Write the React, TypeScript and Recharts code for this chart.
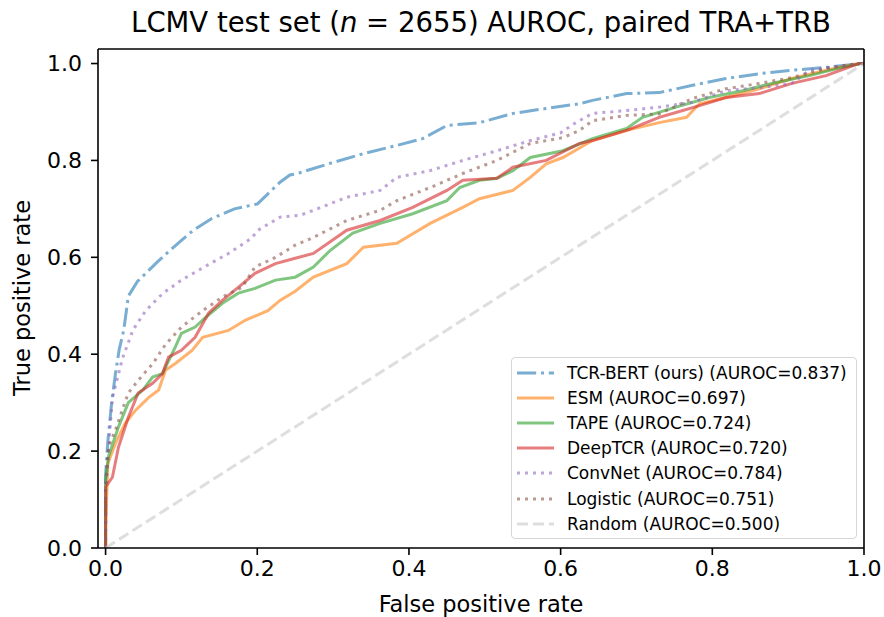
import { LineChart, Line, XAxis, YAxis, ReferenceLine } from 'recharts'

// ROC points (fpr / tpr per model)
const tcrbertFpr = [0, 0, 0.003, 0.008, 0.013, 0.018, 0.024, 0.03, 0.042, 0.055, 0.068, 0.082, 0.1, 0.115, 0.14, 0.17, 0.2, 0.23, 0.243, 0.253, 0.296, 0.34, 0.384, 0.418, 0.45, 0.493, 0.537, 0.58, 0.625, 0.642, 0.687, 0.73, 0.774, 0.818, 0.862, 0.905, 0.95, 0.996, 1]
const tcrbertTpr = [0, 0.15, 0.22, 0.3, 0.36, 0.41, 0.45, 0.52, 0.55, 0.57, 0.59, 0.61, 0.635, 0.655, 0.68, 0.7, 0.71, 0.755, 0.77, 0.773, 0.794, 0.814, 0.831, 0.845, 0.872, 0.878, 0.897, 0.907, 0.917, 0.924, 0.938, 0.94, 0.955, 0.969, 0.979, 0.986, 0.992, 1, 1]

const esmFpr = [0, 0, 0.003, 0.013, 0.026, 0.04, 0.057, 0.07, 0.079, 0.092, 0.114, 0.128, 0.162, 0.184, 0.214, 0.23, 0.25, 0.274, 0.318, 0.34, 0.384, 0.428, 0.471, 0.493, 0.537, 0.56, 0.581, 0.603, 0.642, 0.687, 0.73, 0.766, 0.783, 0.818, 0.862, 0.905, 0.95, 0.993, 1]
const esmTpr = [0, 0.04, 0.175, 0.216, 0.258, 0.285, 0.311, 0.326, 0.367, 0.381, 0.408, 0.435, 0.449, 0.47, 0.49, 0.511, 0.53, 0.559, 0.587, 0.621, 0.629, 0.67, 0.703, 0.721, 0.738, 0.765, 0.793, 0.806, 0.841, 0.862, 0.878, 0.889, 0.917, 0.93, 0.948, 0.969, 0.986, 1, 1]

const tapeFpr = [0, 0, 0.004, 0.017, 0.03, 0.049, 0.062, 0.075, 0.092, 0.1, 0.118, 0.132, 0.154, 0.175, 0.197, 0.224, 0.25, 0.274, 0.296, 0.326, 0.362, 0.405, 0.45, 0.467, 0.493, 0.516, 0.537, 0.56, 0.603, 0.642, 0.687, 0.708, 0.752, 0.796, 0.84, 0.884, 0.928, 0.971, 0.996, 1]
const tapeTpr = [0, 0.14, 0.19, 0.25, 0.3, 0.326, 0.353, 0.36, 0.415, 0.443, 0.456, 0.476, 0.505, 0.526, 0.536, 0.553, 0.559, 0.58, 0.614, 0.65, 0.67, 0.69, 0.717, 0.744, 0.759, 0.763, 0.779, 0.806, 0.82, 0.845, 0.866, 0.889, 0.91, 0.93, 0.944, 0.961, 0.975, 0.992, 1, 1]

const deeptcrFpr = [0, 0, 0.009, 0.017, 0.03, 0.043, 0.062, 0.075, 0.083, 0.1, 0.118, 0.136, 0.154, 0.175, 0.197, 0.224, 0.25, 0.274, 0.318, 0.362, 0.405, 0.45, 0.471, 0.516, 0.537, 0.581, 0.625, 0.642, 0.687, 0.73, 0.752, 0.783, 0.818, 0.862, 0.905, 0.95, 0.993, 1]
const deeptcrTpr = [0, 0.126, 0.146, 0.208, 0.27, 0.32, 0.34, 0.36, 0.394, 0.408, 0.435, 0.485, 0.511, 0.538, 0.567, 0.587, 0.598, 0.608, 0.656, 0.676, 0.703, 0.738, 0.759, 0.763, 0.786, 0.8, 0.835, 0.841, 0.862, 0.889, 0.899, 0.913, 0.93, 0.938, 0.959, 0.975, 1, 1]

const convnetFpr = [0, 0, 0.003, 0.009, 0.022, 0.036, 0.053, 0.075, 0.1, 0.13, 0.162, 0.193, 0.2, 0.23, 0.257, 0.274, 0.318, 0.362, 0.384, 0.428, 0.471, 0.516, 0.56, 0.6, 0.62, 0.642, 0.687, 0.73, 0.774, 0.818, 0.862, 0.905, 0.928, 0.993, 1]
const convnetTpr = [0, 0.12, 0.19, 0.31, 0.39, 0.45, 0.49, 0.525, 0.553, 0.58, 0.608, 0.64, 0.655, 0.683, 0.687, 0.697, 0.724, 0.738, 0.765, 0.779, 0.8, 0.82, 0.841, 0.857, 0.878, 0.897, 0.903, 0.91, 0.92, 0.944, 0.95, 0.959, 0.986, 1, 1]

const logisticFpr = [0, 0, 0.004, 0.013, 0.022, 0.03, 0.043, 0.062, 0.079, 0.1, 0.128, 0.154, 0.18, 0.197, 0.224, 0.25, 0.274, 0.318, 0.362, 0.384, 0.428, 0.471, 0.516, 0.56, 0.603, 0.625, 0.642, 0.687, 0.73, 0.774, 0.818, 0.862, 0.905, 0.95, 0.993, 1]
const logisticTpr = [0, 0.12, 0.21, 0.243, 0.285, 0.32, 0.346, 0.38, 0.42, 0.456, 0.49, 0.518, 0.538, 0.58, 0.6, 0.625, 0.641, 0.676, 0.697, 0.717, 0.744, 0.773, 0.8, 0.835, 0.847, 0.862, 0.882, 0.893, 0.896, 0.928, 0.948, 0.959, 0.971, 0.99, 1, 1]

const randomFpr = [0, 1]
const randomTpr = [0, 1]

const ticks = [0, 0.2, 0.4, 0.6, 0.8, 1.0]
const xDomain = [-0.01, 1]
const yDomain = [0, 1.03]

const zip = (xs: number[], ys: number[]) => xs.map((x, i) => ({ x, y: ys[i] }))

const series = [
  { name: 'TCR-BERT (ours) (AUROC=0.837)', data: zip(tcrbertFpr, tcrbertTpr), color: '#1f77b4', dash: '19.2 4.8 3 4.8' },
  { name: 'ESM (AUROC=0.697)', data: zip(esmFpr, esmTpr), color: '#ff7f0e', dash: undefined },
  { name: 'TAPE (AUROC=0.724)', data: zip(tapeFpr, tapeTpr), color: '#2ca02c', dash: undefined },
  { name: 'DeepTCR (AUROC=0.720)', data: zip(deeptcrFpr, deeptcrTpr), color: '#d62728', dash: undefined },
  { name: 'ConvNet (AUROC=0.784)', data: zip(convnetFpr, convnetTpr), color: '#9467bd', dash: '3 5' },
  { name: 'Logistic (AUROC=0.751)', data: zip(logisticFpr, logisticTpr), color: '#8c564b', dash: '3 5' },
  { name: 'Random (AUROC=0.500)', data: zip(randomFpr, randomTpr), color: '#c8c8c8', dash: '11 5' },
]

const FONT = '"DejaVu Sans", sans-serif'

function LegendBox() {
  return (
    <div style={{
      position: 'absolute', left: 511, top: 357, width: 346, boxSizing: 'border-box',
      border: '1px solid #d6d6d6', borderRadius: 4, background: 'rgba(255,255,255,0.8)',
      padding: '2px 0', fontFamily: FONT, fontSize: 17, color: '#000',
    }}>
      {series.map(s => (
        <div key={s.name} style={{ display: 'flex', alignItems: 'center', height: 25.2 }}>
          <svg width={40} height={10} style={{ marginLeft: 5, marginRight: 10 }}>
            <line x1={0} y1={5} x2={37} y2={5} stroke={s.color} strokeOpacity={0.6}
              strokeWidth={3} strokeDasharray={s.dash} />
          </svg>
          <span style={{ whiteSpace: 'nowrap' }}>{s.name}</span>
        </div>
      ))}
    </div>
  )
}

export default function App() {
  return (
    <div style={{ position: 'absolute', left: 0, top: 0, width: 884, height: 617, background: '#fff', fontFamily: FONT }}>
      <div style={{ position: 'absolute', left: 60, width: 842, top: 5, textAlign: 'center', fontSize: 27.5, lineHeight: '34px', color: '#000' }}>
        LCMV test set (<span style={{ fontStyle: 'italic' }}>n</span> = 2655) AUROC, paired TRA+TRB
      </div>
      <div style={{ position: 'absolute', left: 98, width: 766, top: 590, textAlign: 'center', fontSize: 22.5, lineHeight: '28px', color: '#000' }}>
        False positive rate
      </div>
      <div style={{
        position: 'absolute', left: 22, top: 298, width: 300, marginLeft: -150, marginTop: -14,
        textAlign: 'center', fontSize: 22.5, lineHeight: '28px', color: '#000', transform: 'rotate(-90deg)',
      }}>
        True positive rate
      </div>
      <LineChart width={884} height={617} margin={{ top: 49, right: 20, bottom: 0, left: 0 }}>
        <XAxis type="number" dataKey="x" domain={xDomain} ticks={ticks} allowDataOverflow
          tickFormatter={(v: number) => v.toFixed(1)} height={69} tickSize={7} tickMargin={5}
          axisLine={{ stroke: '#000', strokeWidth: 1.6 }} tickLine={{ stroke: '#000', strokeWidth: 1.6 }}
          tick={{ fontSize: 22, fill: '#000', fontFamily: FONT }} />
        <YAxis type="number" domain={yDomain} ticks={ticks} allowDataOverflow
          tickFormatter={(v: number) => v.toFixed(1)} width={98} tickSize={7} tickMargin={9}
          axisLine={{ stroke: '#000', strokeWidth: 1.6 }} tickLine={{ stroke: '#000', strokeWidth: 1.6 }}
          tick={{ fontSize: 22, fill: '#000', fontFamily: FONT }} />
        {series.map(s => (
          <Line key={s.name} data={s.data} dataKey="y" name={s.name} type="linear" dot={false}
            stroke={s.color} strokeOpacity={0.6} strokeWidth={3} strokeDasharray={s.dash}
            isAnimationActive={false} />
        ))}
        <ReferenceLine y={yDomain[1]} stroke="#000" strokeWidth={1.6} />
        <ReferenceLine x={xDomain[1]} stroke="#000" strokeWidth={1.6} />
      </LineChart>
      <LegendBox />
    </div>
  )
}
